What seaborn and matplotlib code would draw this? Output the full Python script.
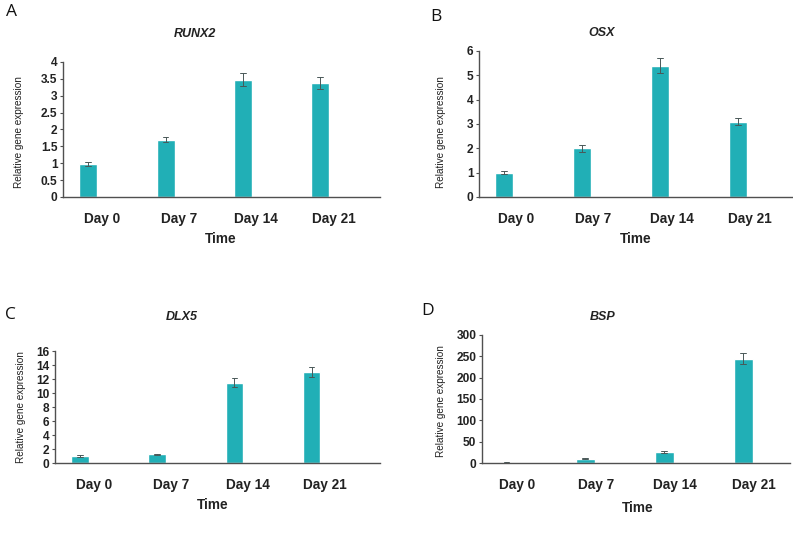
import matplotlib
matplotlib.use("Agg")
import matplotlib.pyplot as plt
import matplotlib.ticker as mticker
import numpy as np
import pandas as pd
import seaborn as sns

# ---------------- data ----------------
days = ["Day 0", "Day 7", "Day 14", "Day 21"]
genes = ["RUNX2", "OSX", "DLX5", "BSP"]
panel_letters = ["A", "B", "C", "D"]

runx2_mean = [0.98, 1.70, 3.48, 3.38]
runx2_err = [0.05, 0.08, 0.19, 0.17]
osx_mean = [1.00, 2.00, 5.40, 3.10]
osx_err = [0.07, 0.14, 0.30, 0.15]
dlx5_mean = [1.00, 1.25, 11.50, 13.00]
dlx5_err = [0.12, 0.10, 0.65, 0.70]
bsp_mean = [1.0, 10.0, 25.0, 244.0]
bsp_err = [0.2, 1.5, 2.5, 13.0]

y_max = [4, 6, 16, 300]
y_step = [0.5, 1, 2, 50]

means = [runx2_mean, osx_mean, dlx5_mean, bsp_mean]
errs = [runx2_err, osx_err, dlx5_err, bsp_err]

x_label = "Time"
y_label = "Relative gene expression"

# ---------------- style ----------------
sns.set_theme(style="white")
plt.rcParams["font.family"] = ["Liberation Sans", "DejaVu Sans"]

BAR = "#21AFB6"
AX = "#505050"
W, H = 793, 552

fig = plt.figure(figsize=(W / 100, H / 100), dpi=100)

def fx(x):
    return x / W

def fy(y):
    return 1 - y / H

# layout: (left px, zero-line px, right px, top px), xlim, dodge width, gap
layouts = [
    dict(box=(63, 197, 380, 62), xlim=(-0.502, 3.599), width=0.70, gap=0.33,
         letter=(12, 12.5), title=(195, 34), xlab=(221, 239), ylab=(19, 132.5)),
    dict(box=(479, 197, 792, 51), xlim=(-0.471, 3.547), width=0.60, gap=0.233,
         letter=(436, 17), title=(602, 33), xlab=(636, 239), ylab=(441, 132)),
    dict(box=(55, 463, 380, 351), xlim=(-0.501, 3.709), width=0.708, gap=0.35,
         letter=(10.5, 315), title=(182, 317), xlab=(213, 505), ylab=(21.5, 407)),
    dict(box=(482, 463, 790, 335), xlim=(-0.44, 3.46), width=0.52, gap=0.096,
         letter=(428, 311), title=(603, 317), xlab=(638, 508), ylab=(441, 401)),
]

for i, lay in enumerate(layouts):
    l, b, r, t = lay["box"]
    ax = fig.add_axes([fx(l), fy(b), (r - l) / W, (b - t) / H])

    rows = []
    for d, m, e in zip(days, means[i], errs[i]):
        rows.append({"Day": d, "value": m - e, "series": "mean"})
        rows.append({"Day": d, "value": m + e, "series": "mean"})
    df = pd.DataFrame(rows)

    sns.barplot(
        data=df, x="Day", y="value", hue="series",
        order=days, hue_order=["mean", "blank"],
        palette={"mean": BAR, "blank": BAR},
        estimator="mean", errorbar=lambda v: (v.min(), v.max()),
        width=lay["width"], gap=lay["gap"], dodge=True, saturation=1,
        capsize=0.15, err_kws={"color": "#4a5858", "linewidth": 0.7},
        legend=False, ax=ax,
    )

    ax.set_xlim(*lay["xlim"])
    ax.set_ylim(0, y_max[i])
    ax.yaxis.set_major_locator(mticker.MultipleLocator(y_step[i]))
    ax.yaxis.set_major_formatter(mticker.FuncFormatter(lambda v, p: f"{v:g}"))

    for s in ["top", "right"]:
        ax.spines[s].set_visible(False)
    for s in ["left", "bottom"]:
        ax.spines[s].set_color(AX)
        ax.spines[s].set_linewidth(1.0)
    ax.set_axisbelow(False)

    ax.set_xticks(range(len(days)))
    ax.set_xticklabels(days)
    ax.set_xticks([lay["xlim"][0]], minor=True)
    ax.tick_params(axis="x", which="major", length=0, pad=10.5,
                   labelsize=9.8, labelcolor="#222222")
    ax.tick_params(axis="x", which="minor", length=4, width=1.0,
                   color=AX, direction="out")
    ax.tick_params(axis="y", which="major", length=2.5, width=0.8,
                   color=AX, direction="out", pad=1.5, labelsize=8.6,
                   labelcolor="#222222", left=True)
    for lbl in ax.get_xticklabels() + ax.get_yticklabels():
        lbl.set_fontweight("bold")

    ax.set_xlabel("")
    ax.set_ylabel("")

    fig.text(fx(lay["letter"][0]), fy(lay["letter"][1]), panel_letters[i],
             ha="center", va="center", fontsize=12.5, color="#111111",
             family=["Open Sans", "DejaVu Sans"])
    fig.text(fx(lay["title"][0]), fy(lay["title"][1]), genes[i],
             ha="center", va="center", fontsize=9, fontweight="bold",
             fontstyle="italic", color="#222222")
    fig.text(fx(lay["xlab"][0]), fy(lay["xlab"][1]), x_label,
             ha="center", va="center", fontsize=9.8, fontweight="bold",
             color="#222222")
    fig.text(fx(lay["ylab"][0]), fy(lay["ylab"][1]), y_label,
             ha="center", va="center", fontsize=7.2, rotation=90,
             color="#222222")

fig.savefig("out.png", dpi=100)
